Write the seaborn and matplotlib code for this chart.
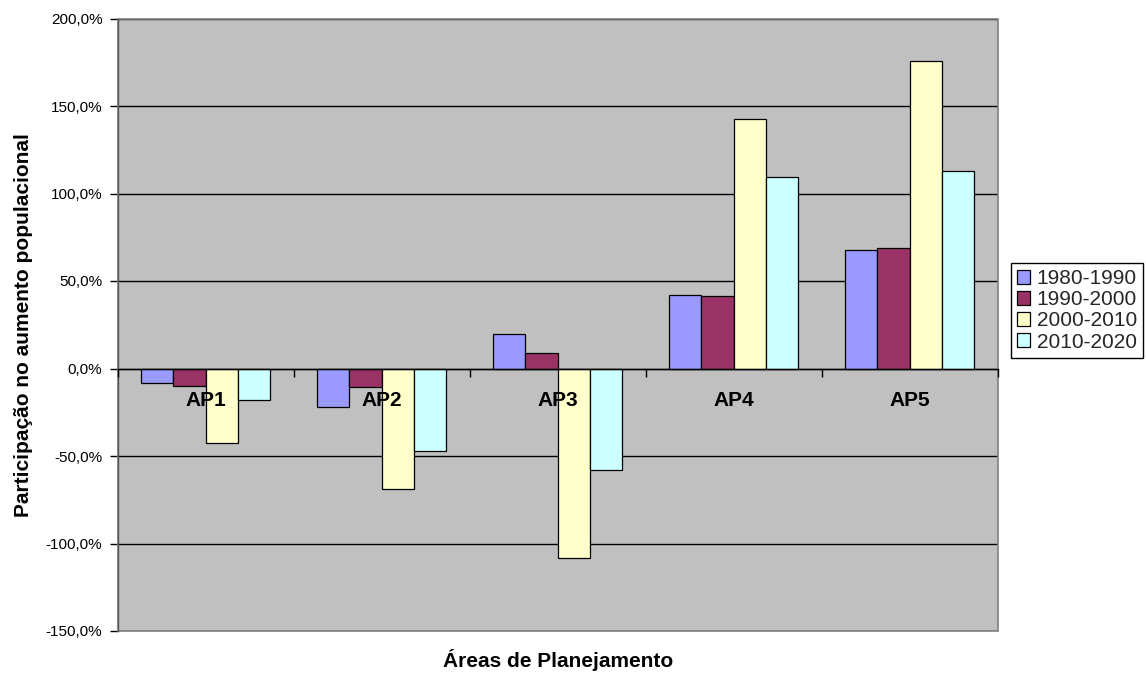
import matplotlib
matplotlib.use("Agg")
import matplotlib.pyplot as plt
import numpy as np
import pandas as pd
import seaborn as sns
from matplotlib.patches import Patch, Rectangle
from matplotlib.ticker import FixedLocator, FuncFormatter

# Population growth share by planning area and decade (%)
areas = ["AP1", "AP2", "AP3", "AP4", "AP5"]
periodos = ["1980-1990", "1990-2000", "2000-2010", "2010-2020"]
v_1980_1990 = [-8.4, -22.0, 19.7, 42.0, 68.0]
v_1990_2000 = [-9.8, -10.4, 9.1, 41.4, 69.1]
v_2000_2010 = [-42.5, -69.0, -108.0, 142.6, 175.7]
v_2010_2020 = [-17.9, -47.3, -57.8, 109.6, 112.8]
y_ticks = [-150, -100, -50, 0, 50, 100, 150, 200]
cores = ["#9999FF", "#993366", "#FFFFCC", "#CCFFFF"]

series = [v_1980_1990, v_1990_2000, v_2000_2010, v_2010_2020]
df = pd.DataFrame({
    "area": np.tile(areas, len(periodos)),
    "periodo": np.repeat(periodos, len(areas)),
    "valor": np.concatenate(series),
})

sns.set_theme(style="white")
plt.rcParams["font.family"] = ["Liberation Sans", "DejaVu Sans"]

W, H = 1146, 674
fig = plt.figure(figsize=(W / 100, H / 100), dpi=100)
fig.patch.set_facecolor("white")
left_px, right_px, top_px, bot_px = 117.7, 997.7, 18.5, 631.0
ax = fig.add_axes([left_px / W, 1 - bot_px / H,
                   (right_px - left_px) / W, (bot_px - top_px) / H])
ax.set_facecolor("#C0C0C0")

sns.barplot(data=df, x="area", y="valor", hue="periodo", order=areas,
            hue_order=periodos, palette=cores, saturation=1, width=0.733,
            edgecolor="black", linewidth=0.9, errorbar=None, ax=ax,
            legend=False, zorder=3)

ax.set_xlim(-0.5, len(areas) - 0.5)
ax.set_ylim(y_ticks[0], y_ticks[-1])

# horizontal gridlines behind the bars
ax.set_axisbelow(True)
ax.yaxis.grid(True, color="black", linewidth=1.0)
ax.xaxis.grid(False)

# y axis
ax.set_yticks(y_ticks)
ax.yaxis.set_major_formatter(
    FuncFormatter(lambda v, _: f"{v:.1f}%".replace(".", ",")))
ax.tick_params(axis="y", which="major", left=True, length=6, width=1,
               color="black", direction="out", labelsize=11, pad=5,
               labelcolor="black")

# x axis sits on the zero line; category labels in bold below it
for side in ("top", "right"):
    ax.spines[side].set_visible(False)
ax.spines["bottom"].set_position(("data", 0))
ax.spines["bottom"].set_color("black")
ax.spines["bottom"].set_linewidth(1.0)
ax.spines["bottom"].set_zorder(4)
ax.spines["left"].set_color("#555555")
ax.spines["left"].set_linewidth(1.0)
ax.set_xticks(range(len(areas)))
ax.set_xticklabels(areas, fontsize=15, fontweight="bold", color="black")
ax.xaxis.set_minor_locator(FixedLocator(np.arange(-0.5, len(areas), 1.0)))
ax.tick_params(axis="x", which="major", bottom=True, length=0, pad=16)
ax.tick_params(axis="x", which="minor", bottom=True, length=6, width=1,
               color="black", direction="out")
ax.xaxis.set_zorder(5)  # category labels drawn over the bars
ax.set_xlabel("")
ax.set_ylabel("")

# plot-area frame
ax.add_patch(Rectangle((0, 0), 1, 1, transform=ax.transAxes, fill=False,
                       edgecolor="#808080", linewidth=1.2, zorder=2,
                       clip_on=False))

# axis titles
fig.text(24 / W, 1 - (top_px + bot_px) / 2 / H,
         "Participação no aumento populacional", rotation=90,
         ha="center", va="center", fontsize=15, fontweight="bold",
         color="black")
fig.text((left_px + right_px) / 2 / W, 1 - 667.3 / H,
         "Áreas de Planejamento", ha="center", va="baseline",
         fontsize=15, fontweight="bold", color="black")

# legend
handles = [Patch(facecolor=c, edgecolor="black", linewidth=0.9)
           for c in cores]
leg = fig.legend(handles, periodos, loc="upper left",
                 bbox_to_anchor=(1010.7 / W, 1 - 263 / H),
                 borderaxespad=0, frameon=True, fancybox=False,
                 edgecolor="black", facecolor="white", framealpha=1,
                 fontsize=15, handlelength=0.65, handleheight=0.65,
                 handletextpad=0.3, labelspacing=0.1, borderpad=0.3)
leg.get_frame().set_linewidth(1.0)

fig.savefig("out.png", dpi=100, facecolor="white")
